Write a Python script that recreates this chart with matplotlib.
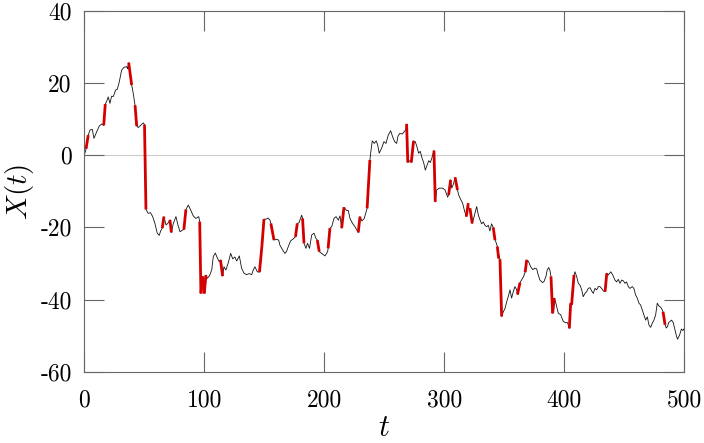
import matplotlib
matplotlib.use("Agg")
import matplotlib.pyplot as plt
import numpy as np

# path of X(t): times, values, and whether the segment ending at that point is a jump
t_vals = [0, 1.5, 3.3, 4.75, 6.7, 8.1, 10.3, 12.5, 14.5, 16.2, 17.5, 18.6, 20, 21.4, 22.8, 24.2,
          26.1, 27.5, 29.2, 31.1, 33.1, 35.3, 36.1, 37.0, 39.5, 40.8, 42.3, 43.7, 45, 47, 49.2,
          50.2, 51.4, 53.3, 55.2, 57, 58.9, 60.8, 62.5, 63.6, 65.0, 66.4, 68.1, 69.8, 71.4, 72.6,
          74.2, 76.4, 78.2, 79.8, 81.9, 83.0, 84.7, 86.7, 88.7, 90.8, 93.0, 95.4, 96.2, 97.2,
          98.8, 100.0, 101.4, 102.5, 104.2, 106.2, 107.5, 109.2, 110.8, 112.5, 113.5, 115.3,
          116.4, 118.0, 120.0, 122.0, 123.7, 125.5, 127.0, 129.2, 131.1, 133.1, 135.3, 137.6,
          139.5, 140.8, 142.2, 144.2, 146.0, 148.1, 149.75, 151.4, 153.3, 154.8, 155.5, 158.1,
          160.0, 162.0, 163.0, 165.2, 167.2, 168.5, 170.0, 172.0, 174.4, 176.0, 177.5, 178.9,
          181.2, 181.9, 183.1, 184.75, 186.0, 187.7, 189.5, 191.4, 193.0, 194.2, 195.8, 197.8,
          200.6, 202.8, 203.2, 204.7, 206.2, 208.1, 209.8, 211.7, 213.1, 214.5, 216.4, 218.6,
          220.0, 221.4, 223.6, 225.6, 227.5, 228.3, 229.75, 231.4, 233.3, 235.7, 238.0, 239.0,
          240.0, 241.7, 243.3, 244.4, 245.8, 247.8, 249.75, 251.4, 253.3, 255.3, 257.0, 258.6,
          260.3, 261.4, 263.0, 265.0, 266.4, 267.8, 268.6, 269.6, 271.1, 272.5, 274.4, 275.8,
          277.2, 278.6, 280.0, 281.4, 282.8, 284.2, 285.6, 287.0, 288.4, 289.7, 290.8, 291.4,
          292.5, 293.7, 295.8, 298.6, 300.6, 302.8, 303.6, 305.3, 306.2, 307.6, 309.0, 311.0,
          312.0, 313.9, 315.3, 316.7, 318.3, 320.0, 320.8, 321.4, 323.3, 324.1, 325.5, 327.0,
          328.4, 329.75, 331.1, 332.5, 333.9, 335.3, 336.7, 338.0, 339.4, 340.8, 342.25, 343.0,
          344.2, 345.3, 345.8, 346.4, 347.8, 349.2, 350.6, 352.0, 353.3, 354.75, 356.1, 357.5,
          358.9, 360.3, 361.0, 363.1, 364.9, 366.1, 367.4, 368.7, 370.1, 372.0, 373.75, 375.6,
          377.0, 378.3, 379.75, 381.9, 383.1, 384.7, 385.8, 387.0, 388.0, 388.9, 390.3, 391.7,
          393.0, 395.0, 397.0, 399.2, 401.0, 402.7, 404.2, 405.3, 406.1, 408.1, 408.9, 410.3,
          411.7, 413.1, 414.5, 415.8, 417.2, 418.6, 420.0, 421.4, 422.8, 424.2, 425.6, 427.0,
          428.4, 429.7, 431.1, 432.5, 434.0, 435.4, 436.7, 438.75, 440.4, 442.2, 443.6, 445.0,
          446.4, 447.8, 449.2, 450.6, 451.9, 453.3, 454.7, 456.7, 458.0, 459.4, 460.8, 462.2,
          463.6, 465.0, 466.4, 467.8, 469.2, 470.6, 472.0, 473.3, 474.7, 476.1, 477.5, 478.9,
          480.3, 481.7, 482.3, 484.0, 485.0, 486.1, 487.0, 489.4, 490.8, 492.2, 493.6, 494.4,
          496.1, 497.6, 498.9, 500.0]
x_vals = [0, 1.8, 5.6, 7.0, 7.2, 4.7, 6.5, 8.1, 8.7, 8.3, 14.2, 14.9, 16.2, 14.4, 16.4, 16.3,
          18.1, 18.3, 20.4, 23.6, 24.4, 24.6, 24.0, 25.7, 19.5, 17.2, 13.9, 8.1, 7.7, 8.3, 9.0,
          8.5, -15.0, -16.1, -15.9, -17.0, -18.9, -21.6, -22.2, -21.0, -20.2, -17.0, -19.3, -18.8,
          -17.9, -21.4, -18.9, -17.0, -19.5, -21.2, -20.7, -20.6, -15.0, -13.8, -15.2, -16.8,
          -17.5, -17.0, -18.4, -38.3, -33.6, -38.3, -33.2, -34.1, -33.5, -31.8, -28.1, -27.1,
          -28.4, -29.5, -29.0, -33.5, -30.9, -31.8, -29.8, -27.2, -28.7, -28.2, -29.3, -27.9,
          -31.3, -32.7, -33.1, -32.8, -33.1, -31.8, -30.9, -32.3, -32.4, -24.9, -17.7, -17.7,
          -17.4, -18.0, -18.9, -23.5, -23.3, -23.5, -24.9, -26.2, -27.2, -26.7, -25.3, -23.7,
          -23.1, -22.6, -18.9, -18.7, -16.6, -17.5, -24.4, -25.8, -24.4, -25.8, -22.1, -21.6,
          -23.0, -23.5, -26.7, -27.2, -27.9, -26.7, -25.8, -20.2, -19.8, -17.5, -17.0, -18.0,
          -16.8, -20.2, -14.4, -15.3, -15.3, -17.5, -18.9, -19.8, -20.9, -21.4, -17.0, -18.2,
          -17.5, -14.7, -1.3, 1.5, 4.0, 3.3, 4.0, 3.0, 0.6, 2.0, 3.8, 3.3, 5.6, 6.8, 5.1, 3.8,
          3.3, 5.3, 6.1, 5.9, 6.5, 7.0, 8.7, -2.0, -1.5, -2.0, 4.0, 3.8, 2.4, 0.6, 1.1, -0.7,
          -2.0, -4.1, -2.8, -1.5, -2.0, -0.7, 0.7, 1.3, -12.9, -9.6, -9.1, -9.1, -9.6, -11.6,
          -11.0, -6.8, -9.1, -8.0, -6.1, -9.6, -11.0, -12.4, -13.3, -15.2, -17.0, -13.3, -15.2,
          -14.7, -18.9, -18.0, -16.1, -14.2, -16.6, -17.9, -19.0, -18.5, -19.4, -19.8, -19.4,
          -21.0, -19.0, -20.0, -23.5, -24.0, -25.3, -28.6, -27.8, -28.8, -44.7, -43.4, -42.5,
          -40.6, -39.2, -37.3, -39.6, -37.8, -36.4, -37.3, -38.6, -35.3, -34.3, -33.6, -32.4,
          -29.0, -29.4, -30.9, -31.7, -31.3, -31.5, -33.2, -34.6, -35.3, -35.0, -33.6, -31.8,
          -31.1, -31.8, -33.6, -43.8, -39.6, -41.0, -43.8, -44.2, -46.1, -46.4, -46.4, -48.0,
          -41.0, -41.5, -33.2, -32.3, -33.6, -35.5, -36.0, -37.3, -39.2, -38.3, -37.8, -36.9,
          -36.7, -37.6, -38.3, -36.9, -37.3, -36.4, -36.4, -36.9, -37.6, -37.8, -32.7, -33.2,
          -32.3, -33.2, -34.6, -35.1, -34.4, -35.5, -34.6, -34.8, -35.5, -35.1, -36.4, -36.9,
          -36.4, -36.9, -38.7, -39.6, -41.0, -41.5, -42.9, -44.3, -45.7, -44.8, -47.1, -47.7,
          -46.6, -45.7, -44.3, -41.0, -41.8, -42.1, -42.9, -43.4, -47.0, -47.9, -47.4, -46.4,
          -45.7, -46.4, -48.4, -50.3, -51.0, -49.8, -48.2, -48.6, -48.0]
# times at which a jump segment ends
jump_ends = [3.3, 17.5, 39.5, 43.7, 51.4, 66.4, 72.6, 84.7, 97.2, 98.8, 100.0, 101.4, 115.3,
             148.1, 149.75, 158.1, 177.5, 183.1, 195.8, 204.7, 216.4, 229.75, 238.0, 269.6,
             274.4, 292.5, 305.3, 311.0, 320.0, 323.3, 342.25, 345.3, 347.8, 363.1, 368.7,
             390.3, 391.7, 405.3, 408.1, 435.4, 484.0]

xticks = [0, 100, 200, 300, 400, 500]
yticks = [-60, -40, -20, 0, 20, 40]

plt.rcParams['font.family'] = 'cmr10'
plt.rcParams['mathtext.fontset'] = 'cm'
plt.rcParams['axes.unicode_minus'] = False

fig = plt.figure(figsize=(7.04, 4.43), dpi=100)
ax = fig.add_axes([0.1197, 0.161, 0.8523, 0.814])

ax.axhline(0, color='#cccccc', lw=0.8, zorder=1)
ax.plot(t_vals, x_vals, color='#111111', lw=0.6, zorder=2)

for i in range(1, len(t_vals)):
    if t_vals[i] in jump_ends:
        ax.plot(t_vals[i - 1:i + 1], x_vals[i - 1:i + 1], color='#d40000', lw=2.0,
                solid_capstyle='butt', zorder=3)

ax.set_xlim(0, 500)
ax.set_ylim(-60, 40)
ax.set_xticks(xticks)
ax.set_yticks(yticks)
ax.set_xticklabels([str(v) for v in xticks])
ax.set_yticklabels([str(v) for v in yticks])

for s in ax.spines.values():
    s.set_color('#666666')
    s.set_linewidth(0.8)
ax.tick_params(direction='in', length=14.4, width=0.8, color='#666666',
               top=True, right=True, labelsize=17)
ax.tick_params(axis='x', pad=13)
ax.tick_params(axis='y', pad=9)

ax.set_xlabel('$t$', fontsize=22, labelpad=2)
ax.set_ylabel('$X(t)$', fontsize=21, labelpad=3)

fig.savefig('out.png', dpi=100)
